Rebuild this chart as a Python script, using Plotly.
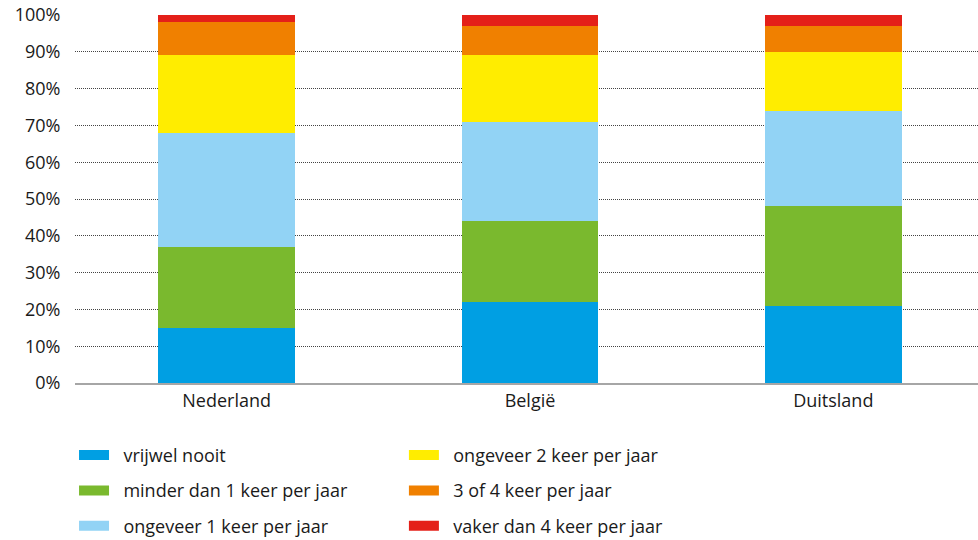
import plotly.graph_objects as go

countries = ["Nederland", "België", "Duitsland"]
categories = [
    "vrijwel nooit",
    "minder dan 1 keer per jaar",
    "ongeveer 1 keer per jaar",
    "ongeveer 2 keer per jaar",
    "3 of 4 keer per jaar",
    "vaker dan 4 keer per jaar",
]
vrijwel_nooit = [15, 22, 21]
minder_dan_1 = [22, 22, 27]
ongeveer_1 = [31, 27, 26]
ongeveer_2 = [21, 18, 16]
drie_of_vier = [9, 8, 7]
vaker_dan_4 = [2, 3, 3]
y_ticks = [0, 10, 20, 30, 40, 50, 60, 70, 80, 90, 100]
y_labels = [f"{v}%" for v in y_ticks]

series = [vrijwel_nooit, minder_dan_1, ongeveer_1, ongeveer_2, drie_of_vier, vaker_dan_4]
colors = ["#009FE3", "#7AB92E", "#92D3F5", "#FFED00", "#F08000", "#E42019"]
legends = ["legend", "legend", "legend", "legend2", "legend2", "legend2"]

FONT = "Open Sans"
TEXT = "#1a1a1a"
SIZE = 18
PAD = "\u00a0\u00a0"  # gap between swatch and label

fig = go.Figure()
for name, vals, col, lg in zip(categories, series, colors, legends):
    fig.add_trace(go.Bar(
        x=countries, y=vals, name=name, marker=dict(color=col, line=dict(width=0)),
        width=0.45, showlegend=False, legendgroup=name,
    ))
    # wide swatch for the legend entry
    fig.add_trace(go.Scatter(
        x=[None], y=[None], mode="lines", name=PAD + name, legendgroup=name,
        line=dict(color=col, width=12), legend=lg, hoverinfo="skip",
    ))

legend_common = dict(
    orientation="v", font=dict(family=FONT, size=SIZE, color=TEXT),
    itemwidth=30, tracegroupgap=9, bgcolor="rgba(0,0,0,0)",
    xref="container", yref="container", xanchor="left", yanchor="top",
)

fig.update_layout(
    width=978, height=540,
    margin=dict(l=75, r=0, t=15, b=157, autoexpand=False),
    paper_bgcolor="white", plot_bgcolor="white",
    barmode="stack",
    font=dict(family=FONT, size=SIZE, color=TEXT),
    legend=dict(x=0.0757, y=0.191, **legend_common),
    legend2=dict(x=0.413, y=0.191, **legend_common),
    xaxis=dict(
        range=[-0.5, 2.477], showgrid=False, showline=True,
        linecolor="#a6a6a6", linewidth=2, ticks="", tickfont=dict(size=SIZE, color=TEXT),
        fixedrange=True,
    ),
    yaxis=dict(
        range=[0, 100], tickvals=y_ticks, ticktext=y_labels,
        showgrid=True, gridcolor="#444444", gridwidth=1, griddash="1px,1px",
        zeroline=False, showline=False, ticks="outside", ticklen=10,
        tickcolor="rgba(0,0,0,0)", tickfont=dict(size=SIZE, color=TEXT),
        fixedrange=True,
    ),
)

fig.write_html("out.html")
